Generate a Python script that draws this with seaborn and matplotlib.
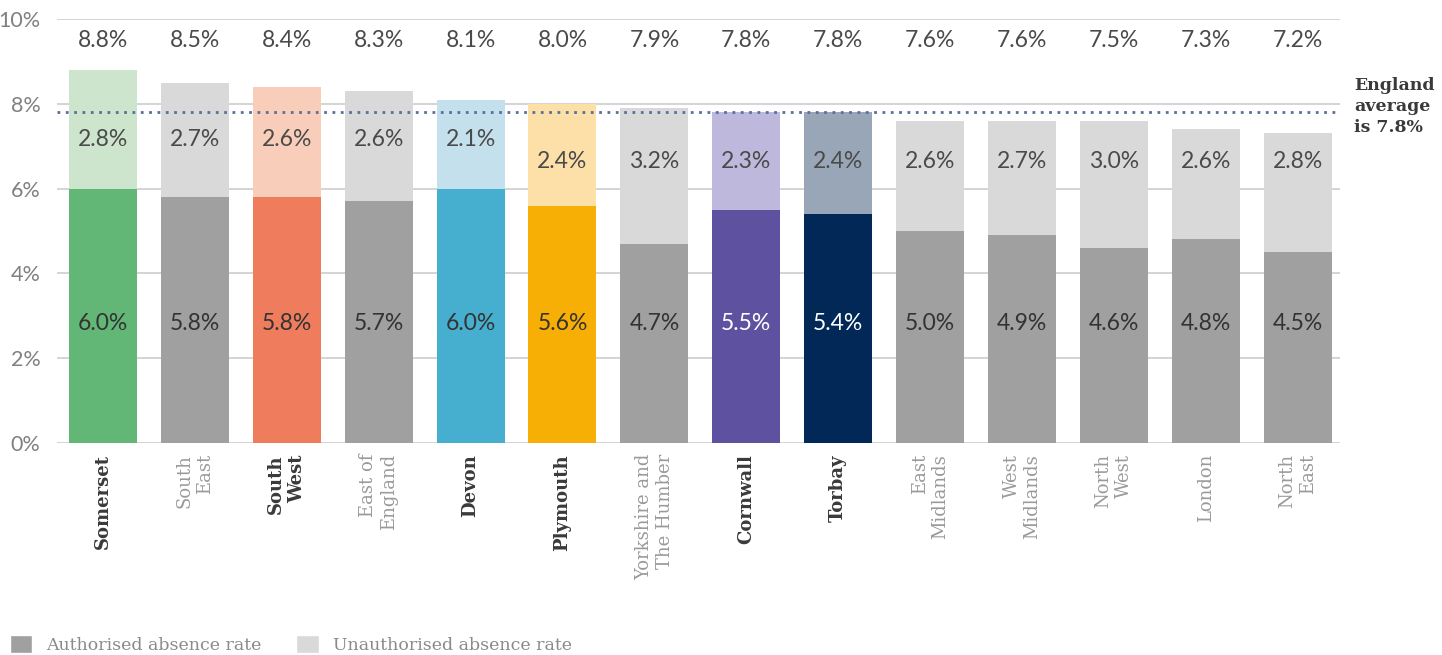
import matplotlib
matplotlib.use("Agg")
import matplotlib.pyplot as plt
from matplotlib.patches import Patch
import seaborn as sns
import pandas as pd

areas = ["Somerset", "South\nEast", "South\nWest", "East of\nEngland", "Devon", "Plymouth",
         "Yorkshire and\nThe Humber", "Cornwall", "Torbay", "East\nMidlands", "West\nMidlands",
         "North\nWest", "London", "North\nEast"]
authorised = [6.0, 5.8, 5.8, 5.7, 6.0, 5.6, 4.7, 5.5, 5.4, 5.0, 4.9, 4.6, 4.8, 4.5]
unauthorised = [2.8, 2.7, 2.6, 2.6, 2.1, 2.4, 3.2, 2.3, 2.4, 2.6, 2.7, 3.0, 2.6, 2.8]
overall = [8.8, 8.5, 8.4, 8.3, 8.1, 8.0, 7.9, 7.8, 7.8, 7.6, 7.6, 7.5, 7.3, 7.2]
england_avg = 7.8
highlighted = ["Somerset", "South\nWest", "Devon", "Plymouth", "Cornwall", "Torbay"]

GREY_DARK = "#a0a0a0"
GREY_LIGHT = "#d9d9d9"
auth_colours = {"Somerset": "#62b776", "South\nWest": "#ef7d5d", "Devon": "#46afcf",
                "Plymouth": "#f7ae05", "Cornwall": "#5e519f", "Torbay": "#012856"}
unauth_colours = {"Somerset": "#cde5cd", "South\nWest": "#f8cdb9", "Devon": "#c4e0ec",
                  "Plymouth": "#fde0a8", "Cornwall": "#beb8dc", "Torbay": "#98a6b8"}

df = pd.DataFrame({"area": areas, "authorised": authorised, "unauthorised": unauthorised})
df["stack_top"] = df["authorised"] + df["unauthorised"]

pal_top = {a: unauth_colours.get(a, GREY_LIGHT) for a in areas}
pal_base = {a: auth_colours.get(a, GREY_DARK) for a in areas}

sns.set_theme(style="white")
plt.rcParams["font.family"] = ["Lato", "DejaVu Sans"]

fig = plt.figure(figsize=(14.42, 6.55), dpi=100)
ax = fig.add_axes([57 / 1442, 1 - 443 / 655, (1340 - 57) / 1442, (443 - 19) / 655])
ax.set_axisbelow(True)
ax.yaxis.grid(True, color="#d4d4d4", lw=1.4)

# stacked bars: full height in the light shade, authorised part drawn over it
sns.barplot(data=df, x="area", y="stack_top", hue="area", palette=pal_top, legend=False,
            width=0.74, ax=ax, saturation=1, linewidth=0, edgecolor="none")
sns.barplot(data=df, x="area", y="authorised", hue="area", palette=pal_base, legend=False,
            width=0.74, ax=ax, saturation=1, linewidth=0, edgecolor="none")

ax.axhline(england_avg, color="#5b6f9c", lw=2, ls=(0, (1, 2)), zorder=4)

ax.set_xlim(-0.5, 13.46)
ax.set_ylim(0, 10)
ax.set_yticks(range(0, 11, 2))
ax.set_yticklabels([f"{v}%" for v in range(0, 11, 2)], fontsize=15.5, color="#808080")
ax.tick_params(axis="y", length=0, pad=12)
ax.tick_params(axis="x", length=0, pad=8)
for s in ax.spines.values():
    s.set_visible(False)
ax.set_xlabel("")
ax.set_ylabel("")

ax.set_xticks(range(len(areas)))
ax.set_xticklabels(areas, rotation=90, va="top", ha="center", multialignment="right")
for lbl, a in zip(ax.get_xticklabels(), areas):
    lbl.set_family("DejaVu Serif")
    lbl.set_fontsize(13)
    if a in highlighted:
        lbl.set_fontweight("bold")
        lbl.set_color("#3a3a3a")
    else:
        lbl.set_color("#9a9a9a")

for i, a in enumerate(areas):
    base_txt = "white" if a in ("Cornwall", "Torbay") else "#333333"
    ax.text(i, 2.83, f"{authorised[i]:.1f}%", ha="center", va="center", fontsize=16.5,
            color=base_txt, zorder=5)
    uy = 7.15 if i < 5 else 6.63
    ax.text(i, uy, f"{unauthorised[i]:.1f}%", ha="center", va="center", fontsize=16.5,
            color="#4a4a4a", zorder=5)
    ax.text(i, 9.5, f"{overall[i]:.1f}%", ha="center", va="center", fontsize=16.5,
            color="#4a4a4a", zorder=5)

fig.text(1354 / 1442, 1 - 77 / 655, f"England\naverage\nis {england_avg}%", ha="left",
         va="top", fontsize=12.5, fontweight="bold", color="#3a3a3a",
         family="DejaVu Serif", linespacing=1.3)

handles = [Patch(facecolor=GREY_DARK, label="Authorised absence rate"),
           Patch(facecolor=GREY_LIGHT, label="Unauthorised absence rate")]
leg = fig.legend(handles=handles, loc="lower left", bbox_to_anchor=(-0.004, -0.022), ncol=2,
                 frameon=False, handlelength=1.3, handleheight=1.3, columnspacing=2.0,
                 prop={"family": "DejaVu Serif", "size": 12.5})
for t in leg.get_texts():
    t.set_color("#8a8a8a")

fig.savefig("out.png", dpi=100)
